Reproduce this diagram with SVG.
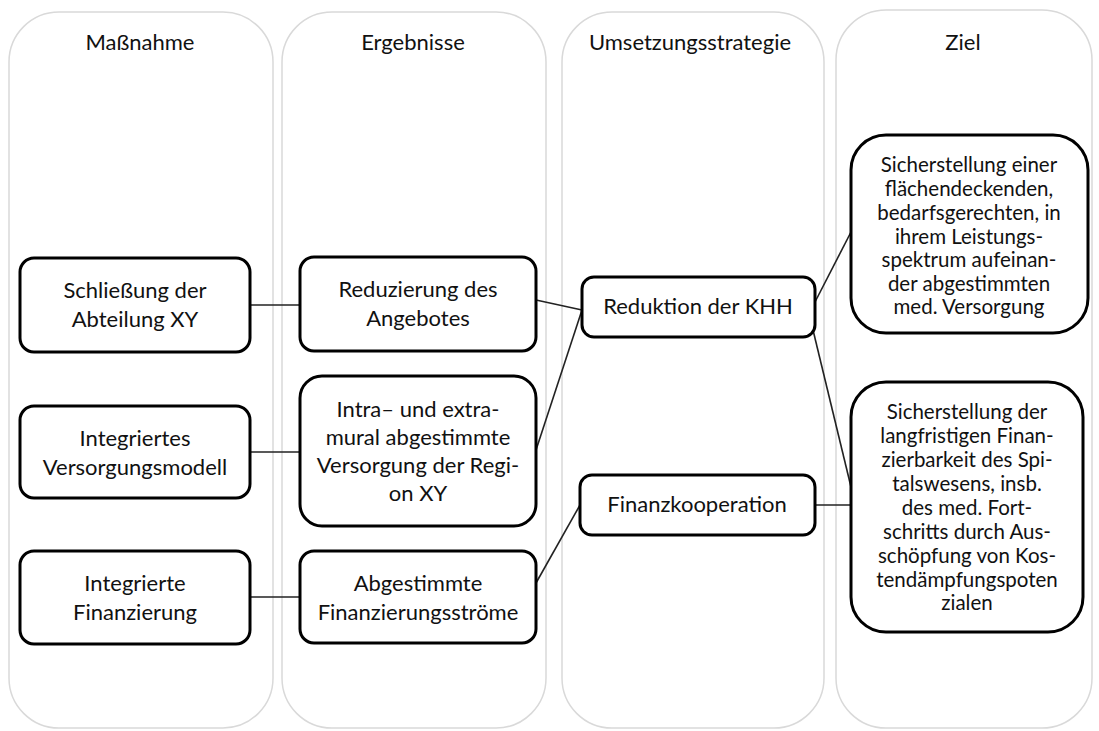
<svg xmlns="http://www.w3.org/2000/svg" width="1099" height="731" viewBox="0 0 1099 731">
<style>
.lane{fill:#fff;stroke:#d9d9d9;stroke-width:1.5}
.node{fill:#fff;stroke:#000;stroke-width:3}
.hd{font-family:Lato,"Open Sans","Liberation Sans",sans-serif;font-size:22px;fill:#111;text-anchor:middle}
.t{font-family:Lato,"Open Sans","Liberation Sans",sans-serif;font-size:22px;fill:#111;text-anchor:middle}
.g{font-family:Lato,"Open Sans","Liberation Sans",sans-serif;font-size:20.5px;fill:#111;text-anchor:middle}
.c{stroke:#222;stroke-width:1.6;fill:none}
</style>
<rect width="1099" height="731" fill="#fff"/>
<g id="lanes">
<g id="lane-massnahme"><rect class="lane" x="9" y="12" width="264" height="716" rx="50"/><text class="hd" x="140" y="50">Maßnahme</text></g>
<g id="lane-ergebnisse"><rect class="lane" x="282" y="12" width="264" height="716" rx="50"/><text class="hd" x="413" y="50">Ergebnisse</text></g>
<g id="lane-umsetzung"><rect class="lane" x="562" y="12" width="262" height="716" rx="50"/><text class="hd" x="690" y="50">Umsetzungsstrategie</text></g>
<g id="lane-ziel"><rect class="lane" x="836" y="10" width="256" height="718" rx="50"/><text class="hd" x="963" y="50">Ziel</text></g>
</g>
<g id="connectors">
<line class="c" x1="250" y1="305" x2="300" y2="305"/>
<line class="c" x1="250" y1="452" x2="300" y2="452"/>
<line class="c" x1="250" y1="597" x2="300" y2="597"/>
<line class="c" x1="536" y1="300" x2="582" y2="310"/>
<line class="c" x1="536" y1="450" x2="582" y2="310"/>
<line class="c" x1="536" y1="583" x2="580" y2="505"/>
<line class="c" x1="815" y1="302" x2="851" y2="232"/>
<line class="c" x1="813" y1="330" x2="851" y2="487"/>
<line class="c" x1="815" y1="505" x2="851" y2="505"/>
</g>
<g id="n1"><rect class="node" x="20" y="258" width="230" height="94" rx="14"/><text class="t" x="135" y="298">Schließung der</text><text class="t" x="135" y="327">Abteilung XY</text></g>
<g id="n2"><rect class="node" x="300" y="257" width="236" height="94" rx="14"/><text class="t" x="418" y="297">Reduzierung des</text><text class="t" x="418" y="326">Angebotes</text></g>
<g id="n3"><rect class="node" x="300" y="376" width="236" height="150" rx="22"/><text class="t" x="418" y="417">Intra– und extra-</text><text class="t" x="418" y="445">mural abgestimmte</text><text class="t" x="418" y="473">Versorgung der Regi-</text><text class="t" x="418" y="501">on XY</text></g>
<g id="n4"><rect class="node" x="20" y="406" width="230" height="92" rx="14"/><text class="t" x="135" y="446">Integriertes</text><text class="t" x="135" y="475">Versorgungsmodell</text></g>
<g id="n5"><rect class="node" x="20" y="551" width="230" height="93" rx="14"/><text class="t" x="135" y="591">Integrierte</text><text class="t" x="135" y="620">Finanzierung</text></g>
<g id="n6"><rect class="node" x="300" y="551" width="236" height="92" rx="14"/><text class="t" x="418" y="591">Abgestimmte</text><text class="t" x="418" y="620">Finanzierungsströme</text></g>
<g id="n7"><rect class="node" x="582" y="277" width="233" height="60" rx="12"/><text class="t" x="698" y="314">Reduktion der KHH</text></g>
<g id="n8"><rect class="node" x="580" y="475" width="235" height="60" rx="12"/><text class="t" x="697" y="512">Finanzkooperation</text></g>
<g id="n9"><rect class="node" x="851" y="135" width="237" height="198" rx="35"/>
<text class="g" x="969" y="172">Sicherstellung einer</text><text class="g" x="969" y="196">flächendeckenden,</text><text class="g" x="969" y="220">bedarfsgerechten, in</text><text class="g" x="969" y="244">ihrem Leistungs-</text><text class="g" x="969" y="267">spektrum aufeinan-</text><text class="g" x="969" y="291">der abgestimmten</text><text class="g" x="969" y="314">med. Versorgung</text></g>
<g id="n10"><rect class="node" x="851" y="382" width="232" height="250" rx="35"/>
<text class="g" x="967" y="419">Sicherstellung der</text><text class="g" x="967" y="443">langfristigen Finan-</text><text class="g" x="967" y="467">zierbarkeit des Spi-</text><text class="g" x="967" y="491">talswesens, insb.</text><text class="g" x="967" y="515">des med. Fort-</text><text class="g" x="967" y="539">schritts durch Aus-</text><text class="g" x="967" y="563">schöpfung von Kos-</text><text class="g" x="967" y="587">tendämpfungspoten</text><text class="g" x="967" y="610">zialen</text></g>
</svg>
